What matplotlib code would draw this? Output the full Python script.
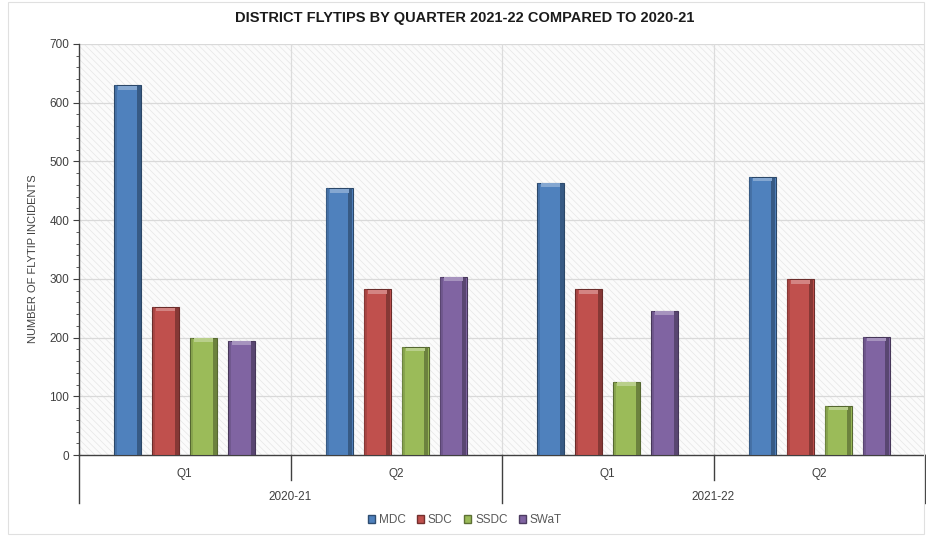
import matplotlib
matplotlib.use("Agg")
import matplotlib.pyplot as plt
import matplotlib.patches as mpatches
import matplotlib.colors as mcolors
from matplotlib.transforms import blended_transform_factory
import numpy as np

title = "DISTRICT FLYTIPS BY QUARTER 2021-22 COMPARED TO 2020-21"
ylabel = "NUMBER OF FLYTIP INCIDENTS"
quarters = ["Q1", "Q2", "Q1", "Q2"]
years = ["2020-21", "2021-22"]
series = ["MDC", "SDC", "SSDC", "SWaT"]
mdc = [630, 454, 464, 474]
sdc = [252, 282, 282, 299]
ssdc = [200, 184, 125, 84]
swat = [195, 304, 246, 201]
values = [mdc, sdc, ssdc, swat]
colors = ["#4F81BD", "#C0504D", "#9BBB59", "#8064A2"]

plt.rcParams['hatch.linewidth'] = 0.5
plt.rcParams['hatch.color'] = '#e6e6e6'

FAM = ['Liberation Sans', 'DejaVu Sans']

fig = plt.figure(figsize=(9.26, 5.36), dpi=100)
fig.patch.set_facecolor('white')
ax = fig.add_axes([79/926, 1-455/536, (925-79)/926, (455-44)/536])
ax.set_xlim(-0.5, 3.5)
ax.set_ylim(0, 700)

# background hatch
bg = mpatches.Rectangle((0, 0), 1, 1, transform=ax.transAxes, facecolor='#fbfbfb',
                        edgecolor='#e6e6e6', hatch='\\\\\\\\\\', linewidth=0, zorder=0)
ax.add_patch(bg)
ax.set_facecolor('white')

for y in range(100, 701, 100):
    ax.axhline(y, color='#d9d9d9', lw=0.9, zorder=1)
for xb in [0.5, 1.5, 2.5]:
    ax.axvline(xb, color='#dcdcdc', lw=0.9, zorder=1)

x = np.arange(len(quarters))
w = 0.127
step = 0.18
offsets = [(-1.5 + i) * step for i in range(4)]

def shade(c, f):
    r, g, b = mcolors.to_rgb(c)
    return (r * f, g * f, b * f)

def light(c, f):
    r, g, b = mcolors.to_rgb(c)
    return (r + (1 - r) * f, g + (1 - g) * f, b + (1 - b) * f)

for vals, col, off, name in zip(values, colors, offsets, series):
    xs = x + off
    vals = np.array(vals, dtype=float)
    ax.bar(xs, vals, width=w, color=col, edgecolor=shade(col, 0.55), linewidth=0.8,
           zorder=3, label=name)
    # right-side dark bevel
    ax.bar(xs + w/2 - w*0.09, vals, width=w*0.14, color=shade(col, 0.6), linewidth=0,
           alpha=0.75, zorder=4)
    # left-side subtle bevel
    ax.bar(xs - w/2 + w*0.06, vals, width=w*0.09, color=shade(col, 0.8), linewidth=0,
           alpha=0.6, zorder=4)
    # top highlight
    ax.bar(xs, np.full_like(vals, 6.0), bottom=vals - 7.5, width=w*0.7, color=light(col, 0.3),
           linewidth=0, zorder=5)

# spines
for s in ['top', 'right']:
    ax.spines[s].set_visible(False)
ax.spines['left'].set_color('#404040')
ax.spines['bottom'].set_color('#404040')
ax.spines['left'].set_linewidth(1.0)
ax.spines['bottom'].set_linewidth(1.0)

ax.set_yticks(range(0, 701, 100))
ax.set_yticks(range(0, 701, 20), minor=True)
ax.tick_params(axis='y', which='major', length=4, color='#404040', labelsize=8.5,
               labelcolor='#404040', pad=3)
ax.tick_params(axis='y', which='minor', length=2.5, color='#404040')
for lab in ax.get_yticklabels():
    lab.set_family(FAM)

ax.set_xticks(x)
ax.set_xticklabels(quarters)
ax.tick_params(axis='x', length=0, pad=9, labelsize=8.5, labelcolor='#404040')
for lab in ax.get_xticklabels():
    lab.set_family(FAM)

trans = blended_transform_factory(ax.transData, ax.transAxes)
px = 1.0 / (455 - 44)
for xb in [-0.5, 1.5, 3.5]:
    ax.plot([xb, xb], [0, -48 * px], transform=trans, color='#404040', lw=1.0, clip_on=False)
for xb in [0.5, 2.5]:
    ax.plot([xb, xb], [0, -25 * px], transform=trans, color='#404040', lw=1.0, clip_on=False)
for i, yr in enumerate(years):
    ax.text(0.5 + 2 * i, -42 * px, yr, transform=trans, ha='center', va='center',
            fontsize=8.5, color='#404040', family=FAM)

ax.set_ylabel(ylabel, fontsize=8, color='#404040',
              family=['Liberation Sans Narrow', 'Liberation Sans', 'DejaVu Sans'], labelpad=5)
ax.yaxis.set_label_coords(-0.048, (455 - 259) / 411)

fig.text(465/926, 1 - 18/536, title, ha='center', va='center', fontsize=10.5,
         fontweight='bold', color='#1a1a1a',
         family=['Liberation Sans Narrow', 'Liberation Sans', 'DejaVu Sans'])

handles = [mpatches.Patch(facecolor=c, edgecolor=shade(c, 0.6), label=n) for c, n in zip(colors, series)]
leg = fig.legend(handles=handles, loc='center', bbox_to_anchor=(465/926, 1 - 520/536), ncol=4,
                 frameon=False, handlelength=0.6, handleheight=0.6,
                 handletextpad=0.3, columnspacing=1.0,
                 prop={'family': FAM, 'size': 8.5})
for t in leg.get_texts():
    t.set_color('#595959')

# outer chart border
border = mpatches.Rectangle((8/926, 2/536), (926-10)/926, (536-4)/536, transform=fig.transFigure,
                            fill=False, edgecolor='#e0e0e0', lw=0.8)
fig.patches.append(border)

fig.savefig("out.png", dpi=100, facecolor='white')
